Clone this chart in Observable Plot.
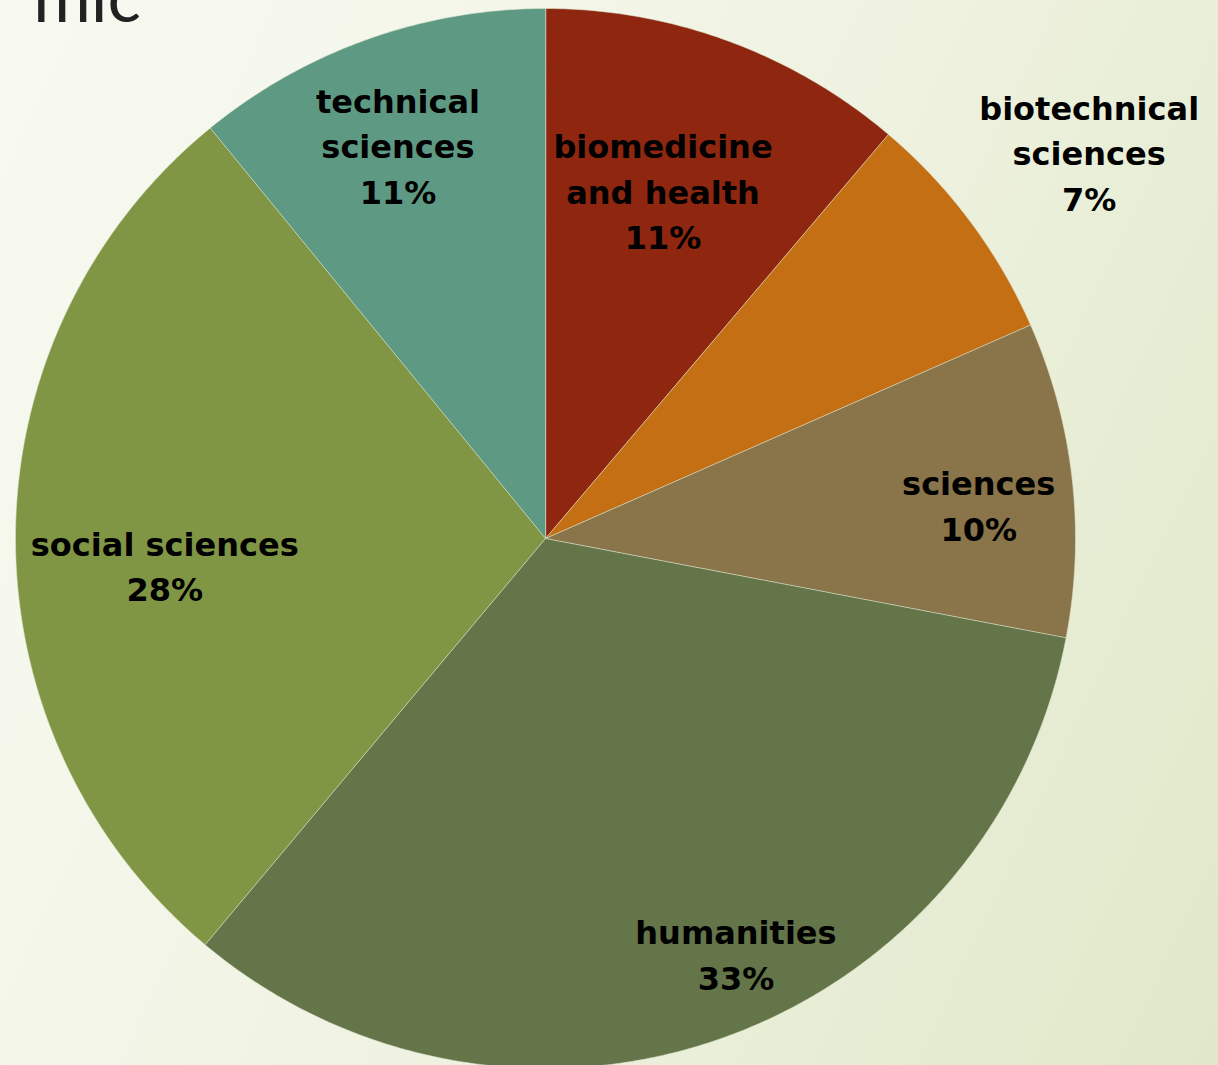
<!DOCTYPE html>
<html>
<head>
<meta charset="utf-8">
<script src="https://cdn.jsdelivr.net/npm/d3@7"></script>
<script src="https://cdn.jsdelivr.net/npm/@observablehq/plot@0.6"></script>
<style>
  html, body { margin: 0; padding: 0; }
  body {
    width: 1218px; height: 1065px; overflow: hidden; position: relative;
    background: linear-gradient(115deg, #f8faf2 0%, #f1f4e4 45%, #e0e8c9 100%);
  }
  #title {
    position: absolute; right: calc(1218px - 141px); top: -40px;
    font-family: Lato, "Open Sans", sans-serif; font-weight: 400; font-size: 70px;
    color: #222; white-space: nowrap; line-height: 1;
  }
  #chart { position: absolute; left: 0; top: 0; }
</style>
</head>
<body>
<div id="title">mic</div>
<div id="chart"></div>
<script>
// ---- data ----
const categories = ["biomedicine and health", "biotechnical sciences", "sciences", "humanities", "social sciences", "technical sciences"];
const shares = [11.2, 7.2, 9.6, 33.1, 28.0, 10.9];
const percentLabels = ["11%", "7%", "10%", "33%", "28%", "11%"];
const labelLines = [
  "biomedicine\nand health",
  "biotechnical\nsciences",
  "sciences",
  "humanities",
  "social sciences",
  "technical\nsciences"
];

// ---- styling / layout ----
const colors = ["#8f2610", "#c46f14", "#8a744a", "#65754a", "#819645", "#5e9a83"];
// label anchor: angle (deg, clockwise from top) and radius factor
const labelPlacement = {
  "biomedicine and health": [18.6, 0.695],
  "biotechnical sciences": [54.5, 1.26],
  "sciences": [85.4, 0.82],
  "humanities": [155.3, 0.86],
  "social sciences": [266.2, 0.72],
  "technical sciences": [339.5, 0.795]
};

const total = d3.sum(shares);
let acc = 0;
const slices = categories.map((c, i) => {
  const a0 = acc / total * 2 * Math.PI;
  acc += shares[i];
  const a1 = acc / total * 2 * Math.PI;
  return {cat: c, a0, a1, i};
});

// polygon points for each slice (geometry derived from the data)
const pts = [];
for (const s of slices) {
  pts.push({cat: s.cat, x: 0, y: 0});
  const n = Math.max(2, Math.ceil((s.a1 - s.a0) / (Math.PI / 360)));
  for (let k = 0; k <= n; k++) {
    const a = s.a0 + (s.a1 - s.a0) * k / n;
    pts.push({cat: s.cat, x: Math.sin(a), y: Math.cos(a)});
  }
}

const labels = slices.map(s => {
  const [deg, r] = labelPlacement[s.cat];
  const a = deg * Math.PI / 180;
  return {cat: s.cat, x: r * Math.sin(a), y: r * Math.cos(a), text: labelLines[s.i] + "\n" + percentLabels[s.i]};
});

const chart = Plot.plot({
  width: 1218,
  height: 1065,
  style: {background: "transparent", overflow: "visible"},
  x: {domain: [-1, 1], range: [15, 1075], axis: null},
  y: {domain: [-1, 1], range: [1068, 8], axis: null},
  color: {domain: categories, range: colors},
  marks: [
    Plot.line(pts, {x: "x", y: "y", z: "cat", fill: "cat", stroke: "#dfe6cf", strokeWidth: 0.8, strokeOpacity: 0.7, curve: "linear-closed"}),
    Plot.text(labels, {
      x: "x", y: "y", text: "text",
      fontFamily: "DejaVu Sans", fontWeight: "bold", fontSize: 32,
      lineHeight: 1.42, fill: "#000", textAnchor: "middle", lineAnchor: "middle"
    })
  ]
});
document.getElementById("chart").appendChild(chart);
</script>
</body>
</html>
